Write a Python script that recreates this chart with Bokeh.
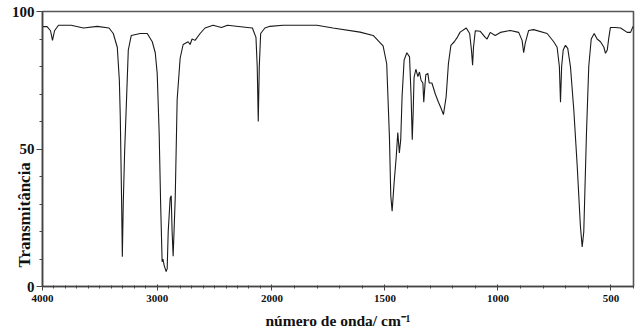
from bokeh.plotting import figure
from bokeh.models import Range1d, FixedTicker
from bokeh.embed import file_html
from bokeh.resources import INLINE

# ---- data ----
wavenumber = [
    3995, 3960, 3930, 3913, 3895, 3861, 3750, 3643, 3522, 3420, 3383, 3348, 3330, 3322,
    3310, 3304, 3296, 3284, 3270, 3252, 3226, 3148, 3087, 3043, 3017, 3000, 2983, 2970,
    2957, 2950, 2939, 2922, 2913, 2904, 2887, 2878, 2870, 2861, 2843, 2826, 2800, 2774,
    2730, 2713, 2696, 2670, 2626, 2583, 2513, 2440, 2387, 2213, 2170, 2139, 2128, 2119,
    2110, 2098, 2061, 2017, 1951, 1801, 1730, 1610, 1552, 1508, 1492, 1480, 1474, 1468,
    1459, 1450, 1443, 1436, 1430, 1424, 1415, 1403, 1391, 1384, 1379, 1375, 1371, 1363,
    1354, 1347, 1340, 1332, 1328, 1323, 1319, 1310, 1304, 1292, 1277, 1263, 1252, 1241,
    1229, 1219, 1208, 1193, 1179, 1167, 1140, 1125, 1117, 1112, 1108, 1100, 1078, 1056,
    1048, 1034, 1012, 989, 945, 908, 893, 886, 879, 864, 842, 782, 753, 738, 728, 723,
    718, 711, 701, 691, 679, 664, 649, 635, 627, 620, 608, 598, 587, 574, 561, 546, 531,
    524, 516, 509, 502, 480, 457, 428, 413, 402,
]
transmittance = [
    94.5, 94.5, 93.0, 89.5, 93.0, 95.0, 95.0, 94.0, 94.6, 94.0, 92.0, 87.0, 75.0, 62.0,
    30.0, 10.8, 30.0, 49.0, 65.0, 86.0, 91.3, 92.0, 92.0, 89.0, 85.0, 77.5, 56.0, 30.0,
    9.0, 10.0, 7.6, 5.4, 6.5, 20.0, 32.0, 33.0, 20.0, 11.0, 32.0, 68.0, 83.0, 88.0,
    89.0, 88.0, 90.0, 89.5, 92.0, 94.0, 95.0, 94.2, 95.0, 94.2, 94.0, 90.6, 80.0, 60.0,
    80.0, 92.0, 94.0, 94.6, 95.0, 95.0, 94.0, 92.5, 91.3, 87.5, 81.0, 54.5, 33.0, 27.4,
    38.0, 47.0, 56.0, 48.6, 53.4, 69.0, 82.3, 85.0, 83.5, 69.0, 53.4, 63.0, 76.0, 79.0,
    76.3, 78.0, 75.0, 74.0, 67.0, 73.0, 77.0, 77.5, 74.0, 74.0, 70.0, 67.0, 64.9, 62.5,
    69.0, 81.0, 87.7, 89.0, 90.7, 92.5, 94.0, 92.0, 86.0, 80.5, 87.0, 93.0, 92.8, 90.6,
    90.0, 92.4, 91.3, 92.4, 93.1, 92.4, 89.5, 85.0, 88.5, 93.1, 93.4, 92.0, 89.0, 87.0, 80.0, 67.0,
    80.0, 86.0, 87.7, 86.6, 80.0, 64.0, 43.7, 22.0, 14.4, 19.9, 56.0, 80.0, 90.0, 92.0, 90.0, 89.0, 87.0,
    84.8, 86.0, 90.6, 94.2, 94.2, 94.0, 92.4, 92.4, 94.6,
]

major_ticks = [4000, 3000, 2000, 1500, 1000, 500]
major_labels = ["4000", "3000", "2000", "1500", "1000", "500"]
minor_ticks = list(range(4000, 399, -100))
y_ticks = [0, 50, 100]
y_minor_ticks = [10, 20, 30, 40, 60, 70, 80, 90]
x_title = "número de onda/ cm⁻¹"
y_title = "Transmitância"

# ---- split wavenumber axis (compressed above 2000 cm-1, as in the reference) ----
SCALE_HIGH = 0.1145  # axis units per cm-1 above 2000
SCALE_LOW = 0.2256   # axis units per cm-1 below 2000


def axis_pos(wn):
    if wn >= 2000:
        return (4000 - wn) * SCALE_HIGH
    return (4000 - 2000) * SCALE_HIGH + (2000 - wn) * SCALE_LOW


xs = [axis_pos(w) for w in wavenumber]

p = figure(width=642, height=331, output_backend="svg", toolbar_location=None,
           x_range=Range1d(0, axis_pos(400)), y_range=Range1d(0, 100),
           min_border_left=42, min_border_right=9, min_border_top=11, min_border_bottom=43)

p.line(xs, transmittance, line_color="#1a1a1a", line_width=1.1)

p.background_fill_color = "white"
p.border_fill_color = "white"
p.outline_line_color = "#555555"
p.outline_line_width = 1.6
p.grid.visible = False

font = "Liberation Serif"
xa = p.xaxis[0]
xa.ticker = FixedTicker(ticks=[axis_pos(t) for t in major_ticks],
                        minor_ticks=[axis_pos(t) for t in minor_ticks])
xa.major_label_overrides = {axis_pos(t): lab for t, lab in zip(major_ticks, major_labels)}
xa.major_label_text_font = font
xa.major_label_text_font_style = "bold"
xa.major_label_text_font_size = "11px"
xa.major_label_text_color = "#111111"
xa.major_label_standoff = 4
xa.major_tick_out = 4
xa.major_tick_in = 2
xa.minor_tick_out = 2
xa.minor_tick_in = 1
xa.axis_line_color = "#444444"
xa.axis_line_width = 1.5
xa.major_tick_line_color = "#444444"
xa.minor_tick_line_color = "#444444"
xa.axis_label = x_title
xa.axis_label_text_font = font
xa.axis_label_text_font_style = "bold"
xa.axis_label_text_font_size = "15.5px"
xa.axis_label_text_color = "#111111"
xa.axis_label_standoff = 7

ya = p.yaxis[0]
ya.ticker = FixedTicker(ticks=y_ticks, minor_ticks=y_minor_ticks)
ya.major_label_text_font = font
ya.major_label_text_font_style = "bold"
ya.major_label_text_font_size = "15px"
ya.major_label_text_color = "#111111"
ya.major_label_standoff = 2
ya.major_tick_out = 6
ya.major_tick_in = 0
ya.minor_tick_out = 3
ya.minor_tick_in = 0
ya.axis_line_color = "#444444"
ya.axis_line_width = 1.5
ya.major_tick_line_color = "#444444"
ya.minor_tick_line_color = "#444444"
# the reference prints this title low on the axis (below the "50" label);
# trailing blanks move the centred title down to that spot
ya.axis_label = y_title + " " * 31
ya.axis_label_text_font = font
ya.axis_label_text_font_style = "bold"
ya.axis_label_text_font_size = "17px"
ya.axis_label_text_color = "#111111"
ya.axis_label_standoff = -25

open("out.html", "w").write(file_html(p, INLINE))
